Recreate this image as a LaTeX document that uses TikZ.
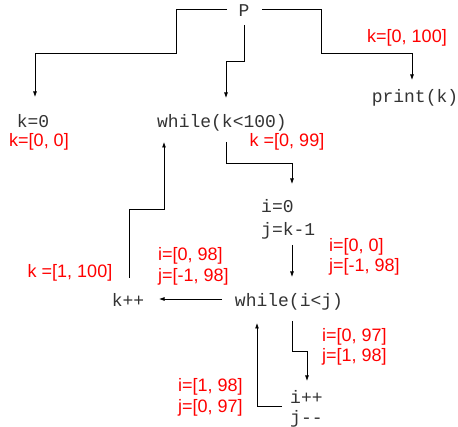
\documentclass[tikz,border=0pt]{standalone}
\usepackage{fontspec}
\setmainfont{Liberation Sans}
\newfontfamily\monofont{Liberation Mono}
\usetikzlibrary{arrows.meta}
\begin{document}
\begin{tikzpicture}[x=1pt,y=-1pt,
  mono/.style={font=\monofont\fontsize{18}{23}\selectfont, inner sep=0pt, text height=12pt, text depth=3pt, text=black!80},
  monoml/.style={font=\monofont\fontsize{18}{#1}\selectfont, inner sep=0pt, align=left, anchor=west, text=black!80},
  lbl/.style={font=\fontsize{18}{20.5}\selectfont, text=red, inner sep=0pt},
  lblml/.style={lbl, align=left, anchor=west},
  arr/.style={draw=black, line width=0.8pt, -{Latex[length=5.5pt,width=4pt]}}
]
\useasboundingbox (0,0) rectangle (458,427);

% code nodes
\node[mono] (P) at (244,12) {P};
\node[mono] (k0) at (33,123) {k=0};
\node[mono] (wk) at (222,123) {while(k<100)};
\node[mono] (pk) at (415,98) {print(k)};
\node[monoml=23] (ij) at (261,219) {i=0\\j=k-1};
\node[mono] (wij) at (289,302) {while(i<j)};
\node[mono] (kpp) at (128,302) {k++};
\node[monoml=20] (ipp) at (290,409) {i++\\j{-}{-}};

% red labels
\node[lbl] (l100) at (407,38) {k=[0, 100]};
\node[lbl] (l00) at (39,142) {k=[0, 0]};
\node[lbl] (l99) at (287,142) {k =[0, 99]};
\node[lbl] (l1100) at (70,273) {k =[1, 100]};
\node[lblml] (la) at (158,266.5) {i=[0, 98]\\j=[-1, 98]};
\node[lblml] (lb) at (329,257) {i=[0, 0]\\j=[-1, 98]};
\node[lblml] (lc) at (322,347) {i=[0, 97]\\j=[1, 98]};
\node[lblml] (ld) at (178,397.5) {i=[1, 98]\\j=[0, 97]};

% connectors
\draw[arr] ([shift={(-17,-3)}]P.center) -| (176,53) -| ([shift={(2,-26)}]k0.center);
\draw[arr] ([shift={(0,13)}]P.center) |- (226,61) -- ([shift={(4,-25)}]wk.center);
\draw[arr] ([shift={(18,-3)}]P.center) -| (321,53) -| ([shift={(-3,-18)}]pk.center);
\draw[arr] ([shift={(4,19)}]wk.center) |- (292,163) -- ([shift={(31,-35)}]ij.west);
\draw[arr] ([shift={(31,26)}]ij.west) -- ([shift={(3,-25)}]wij.center);
\draw[arr] ([shift={(-67,-3)}]wij.center) -- ([shift={(31,-3)}]kpp.center);
\draw[arr] ([shift={(1,-24)}]kpp.center) |- (164,209) -- ([shift={(-58,19)}]wk.center);
\draw[arr] ([shift={(3,19)}]wij.center) |- (307,351) -- ([shift={(17,-28)}]ipp.west);
\draw[arr] ([shift={(-8,-3)}]ipp.west) -| ([shift={(-32,21)}]wij.center);
\end{tikzpicture}
\end{document}
